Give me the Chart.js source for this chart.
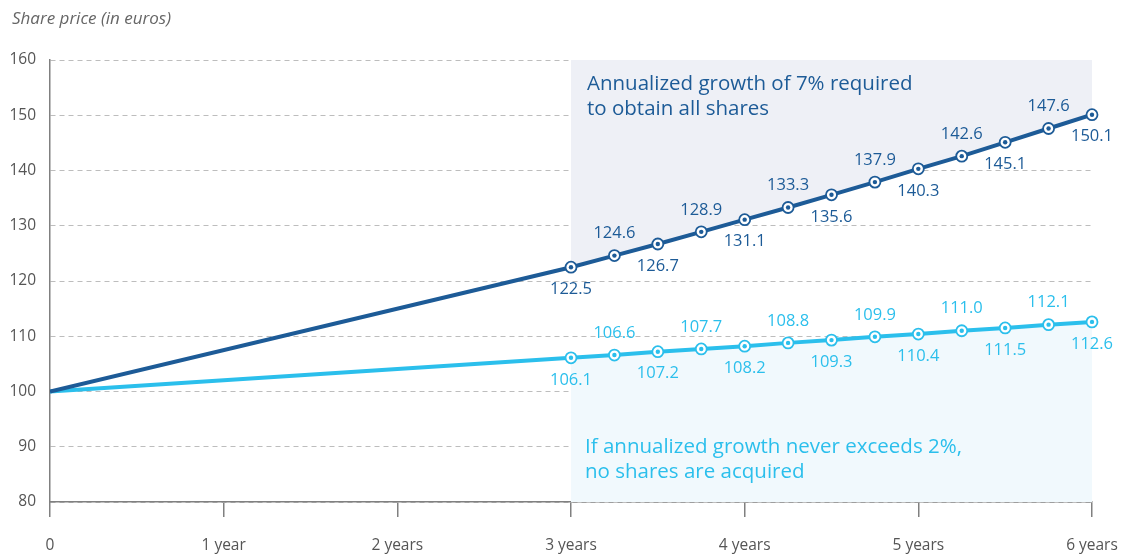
<!DOCTYPE html>
<html>
<head>
<meta charset="utf-8">
<script src="https://cdn.jsdelivr.net/npm/chart.js@4.4.1/dist/chart.umd.min.js"></script>
<style>
  html, body { margin: 0; padding: 0; background: #fff; }
  #wrap { width: 1124px; height: 556px; position: relative; }
</style>
</head>
<body>
<div id="wrap"><canvas id="priceChart"></canvas></div>
<script>
// years on the x axis (0, then quarterly from year 3 to year 6)
const years = [0, 3, 3.25, 3.5, 3.75, 4, 4.25, 4.5, 4.75, 5, 5.25, 5.5, 5.75, 6];
const growth7 = [100, 122.5, 124.6, 126.7, 128.9, 131.1, 133.3, 135.6, 137.9, 140.3, 142.6, 145.1, 147.6, 150.1];
const growth2 = [100, 106.1, 106.6, 107.2, 107.7, 108.2, 108.8, 109.3, 109.9, 110.4, 111.0, 111.5, 112.1, 112.6];
const yTicks = [80, 90, 100, 110, 120, 130, 140, 150, 160];
const xTicks = ["0", "1 year", "2 years", "3 years", "4 years", "5 years", "6 years"];

const darkBlue = "#1d5b97";
const lightBlue = "#2bbfec";
const FONT = "'Open Sans', Lato, sans-serif";

const pts = (vals, from) => vals.map((v, i) => ({ x: years[i], y: v })).slice(from);

// white ring markers with a dot in the middle, plus value labels alternating below/above
const markerPlugin = {
  id: "markers",
  afterDatasetsDraw(chart) {
    const ctx = chart.ctx;
    chart.data.datasets.forEach((ds, di) => {
      if (!ds.markers) return;
      const meta = chart.getDatasetMeta(di);
      meta.data.forEach((p, i) => {
        if (i === 0) return;
        ctx.save();
        ctx.beginPath();
        ctx.arc(p.x, p.y, 5.5, 0, Math.PI * 2);
        ctx.fillStyle = "#fff";
        ctx.fill();
        ctx.lineWidth = 1.8;
        ctx.strokeStyle = ds.borderColor;
        ctx.stroke();
        ctx.beginPath();
        ctx.arc(p.x, p.y, 2.2, 0, Math.PI * 2);
        ctx.fillStyle = ds.borderColor;
        ctx.fill();
        // labels: odd indexes below, even indexes above
        const below = i % 2 === 1;
        ctx.font = "16.5px " + FONT;
        ctx.textAlign = "center";
        ctx.textBaseline = "middle";
        ctx.fillText(ds.data[i].y.toFixed(1), p.x, p.y + (below ? 22 : -22));
        ctx.restore();
      });
    });
  }
};

// axis caption and the two region notes
const notesPlugin = {
  id: "notes",
  afterDraw(chart) {
    const ctx = chart.ctx;
    const x = chart.scales.x;
    const y = chart.scales.y;
    ctx.save();
    ctx.font = "italic 17px " + FONT;
    ctx.fillStyle = "#666";
    ctx.textAlign = "left";
    ctx.textBaseline = "alphabetic";
    ctx.fillText("Share price (in euros)", 12, 24);

    const left = x.getPixelForValue(3) + 16;
    ctx.font = "20.5px " + FONT;
    ctx.fillStyle = darkBlue;
    ctx.fillText("Annualized growth of 7% required", left, y.getPixelForValue(160) + 30);
    ctx.fillText("to obtain all shares", left, y.getPixelForValue(160) + 55);
    ctx.fillStyle = lightBlue;
    ctx.fillText("If annualized growth never exceeds 2%,", left - 2, y.getPixelForValue(80) - 49);
    ctx.fillText("no shares are acquired", left - 2, y.getPixelForValue(80) - 24);
    ctx.restore();
  }
};

const noOverflow = (s) => { s.paddingLeft = 0; s.paddingRight = 0; s.paddingTop = 0; s.paddingBottom = 0; };

new Chart(document.getElementById("priceChart"), {
  type: "line",
  data: {
    datasets: [
      {
        data: pts(growth7, 0),
        borderColor: darkBlue,
        borderWidth: 4,
        pointRadius: 0,
        fill: false,
        markers: true,
        order: 1
      },
      {
        data: pts(growth2, 0),
        borderColor: lightBlue,
        borderWidth: 4,
        pointRadius: 0,
        fill: false,
        markers: true,
        order: 1
      },
      {
        data: pts(growth7, 1),
        borderWidth: 0,
        pointRadius: 0,
        backgroundColor: "#eef0f6",
        fill: "end",
        order: 2
      },
      {
        data: pts(growth2, 1),
        borderWidth: 0,
        pointRadius: 0,
        backgroundColor: "#f1f9fd",
        fill: "start",
        order: 2
      }
    ]
  },
  options: {
    responsive: true,
    maintainAspectRatio: false,
    animation: false,
    layout: { padding: { top: 60, right: 32, left: 0, bottom: 0 } },
    plugins: {
      legend: { display: false },
      tooltip: { enabled: false }
    },
    scales: {
      x: {
        type: "linear",
        min: 0,
        max: 6,
        afterFit: (s) => { s.height = 54; noOverflow(s); },
        afterBuildTicks: (s) => { s.ticks = xTicks.map((_, i) => ({ value: i })); },
        ticks: {
          callback: (v) => xTicks[v],
          font: { family: FONT, size: 15.5 },
          color: "#555",
          padding: 19,
          maxRotation: 0
        },
        grid: { drawOnChartArea: false, drawTicks: true, tickLength: 15, color: "#808080", lineWidth: 1.5 },
        border: { display: true, color: "#808080", width: 1.5 }
      },
      y: {
        min: 80,
        max: 160,
        afterFit: (s) => { s.width = 50; noOverflow(s); },
        afterBuildTicks: (s) => { s.ticks = yTicks.map((v) => ({ value: v })); },
        ticks: {
          font: { family: FONT, size: 15.5 },
          color: "#555",
          padding: 14
        },
        grid: { drawTicks: false, color: "#bdbdbd", lineWidth: 1 },
        border: { display: true, color: "#808080", width: 1.5, dash: [5, 4] }
      }
    }
  },
  plugins: [markerPlugin, notesPlugin]
});
</script>
</body>
</html>
